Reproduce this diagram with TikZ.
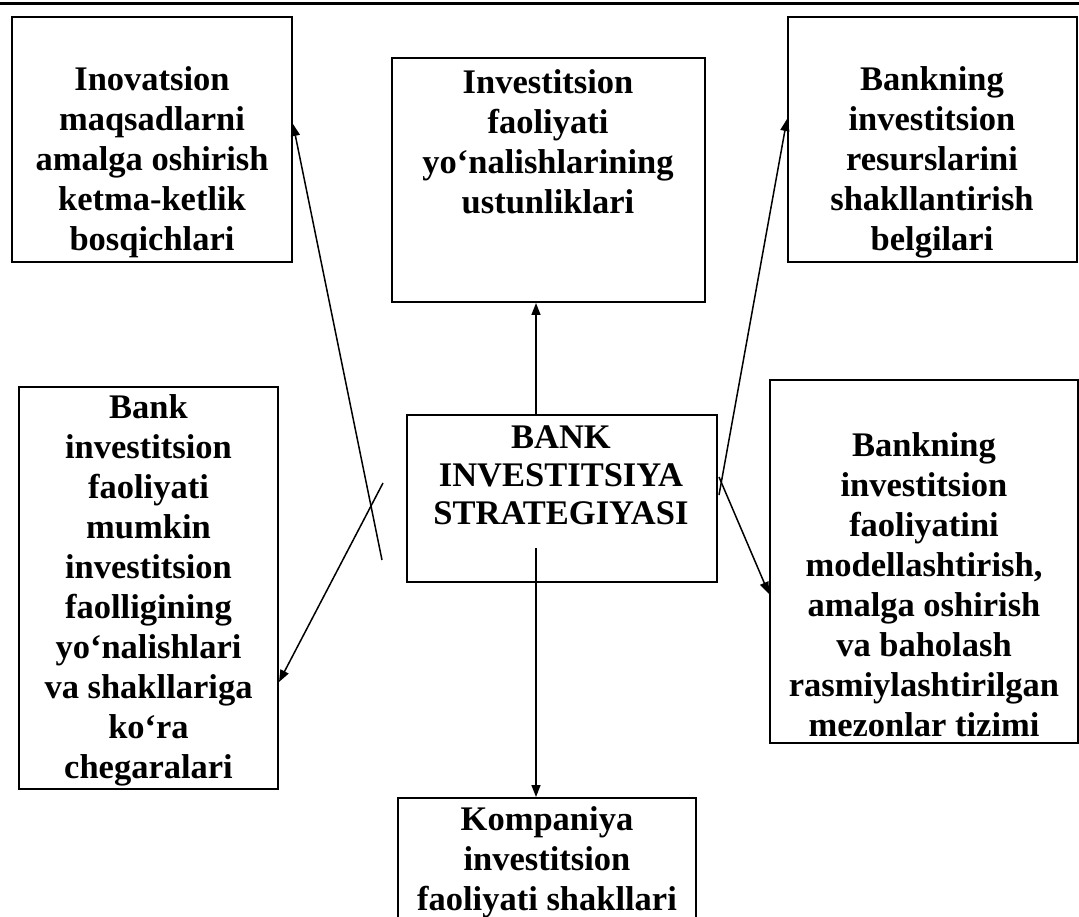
\documentclass[tikz,border=0pt]{standalone}
\usepackage{fontspec}
\setmainfont{Liberation Serif}
\usetikzlibrary{arrows.meta,calc}
\begin{document}
\begin{tikzpicture}[x=1pt,y=-1pt,
  box/.style={draw, line width=2pt, inner sep=0pt},
  txt/.style={font=\fontsize{34.5}{40}\selectfont\bfseries, align=center, inner sep=0pt},
  arr/.style={line width=1.5pt, -{Triangle[length=12pt,width=9pt]}}]
\useasboundingbox (0,0) rectangle (1079,917);
\clip (0,0) rectangle (1079,917);
\fill[white] (0,0) rectangle (1079,917);
\draw[line width=3pt] (0,4) -- (1079,4);
% boxes
\node[box, minimum width=280pt, minimum height=245pt] (b1) at (152,139.5) {};
\node[box, minimum width=313pt, minimum height=244pt] (b2) at (548.5,180) {};
\node[box, minimum width=289pt, minimum height=245pt] (b3) at (932.5,139.5) {};
\node[box, minimum width=259pt, minimum height=402pt] (b4) at (148.5,588) {};
\node[box, minimum width=310pt, minimum height=167pt] (c) at (562,498.5) {};
\node[box, minimum width=308pt, minimum height=363pt] (b5) at (924,561.5) {};
\node[box, minimum width=298pt, minimum height=142pt] (b6) at (547,869) {};
% texts
\node[txt] (t1) at (152,162) {Inovatsion\\maqsadlarni\\amalga oshirish\\ketma-ketlik\\bosqichlari};
\node[txt] (t2) at (548,142) {Investitsion\\faoliyati\\yo‘nalishlarining\\ustunliklari};
\node[txt] (t3) at (932,162) {Bankning\\investitsion\\resurslarini\\shakllantirish\\belgilari};
\node[txt] (t4) at (148.5,590) {Bank\\investitsion\\faoliyati\\mumkin\\investitsion\\faolligining\\yo‘nalishlari\\va shakllariga\\ko‘ra\\chegaralari};
\node[txt, font=\fontsize{34.5}{38}\selectfont\bfseries] (tc) at (561,475) {BANK\\INVESTITSIYA\\STRATEGIYASI};
\node[txt] (t5) at (924,585) {Bankning\\investitsion\\faoliyatini\\modellashtirish,\\amalga oshirish\\va baholash\\rasmiylashtirilgan\\mezonlar tizimi};
\node[txt] (t6) at (547,862) {Kompaniya\\investitsion\\faoliyati shakllari};
% free ends
\coordinate (s1) at (382,560);
\coordinate (s4) at (383,483);
\coordinate (s3) at (719,495);
\coordinate (s5) at (719,477);
\coordinate (s6) at (536,548);
% connectors
\draw[arr] (s1) -- ($(b1.north east)+(0,108)$);
\draw[arr] (s4) -- ($(b4.north east)+(0,296)$);
\draw[arr] ([xshift=-26pt]c.north) -- ([xshift=-26pt]c.north |- b2.south);
\draw[arr] (s3) -- ($(b3.north west)+(0,103)$);
\draw[arr] (s5) -- ($(b5.north west)+(0,215)$);
\draw[arr] (s6) -- (s6 |- b6.north);
\end{tikzpicture}
\end{document}
